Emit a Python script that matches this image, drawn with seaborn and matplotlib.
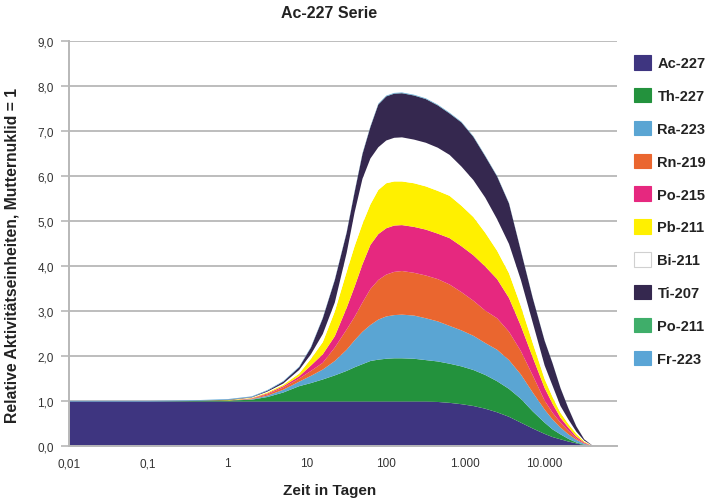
import numpy as np
import pandas as pd
import matplotlib
matplotlib.use("Agg")
import matplotlib.pyplot as plt
import matplotlib.patches as mpatches
import seaborn as sns

# ---- data ----
days = [0.01, 0.1, 0.316, 1, 2, 3.16, 5.01, 7.94, 11.2, 15.8, 22.4, 31.6, 39.8,
        50.1, 63.1, 79.4, 100, 126, 158, 224, 316, 447, 631, 891, 1259, 1778,
        2512, 3548, 5012, 7079, 10000, 12589, 15849, 19953, 25119, 31623, 41687]

ac227 = [1, 1, 1, 1, 1, 1, 1, 1, 1, 1, 1, 1, 1, 1, 1, 1, 1, 1, 1, 1, 1,
         0.99, 0.97, 0.94, 0.90, 0.84, 0.76, 0.66, 0.53, 0.40, 0.28, 0.21, 0.16,
         0.11, 0.07, 0.03, 0]
th227 = [0, 0, 0.01, 0.02, 0.04, 0.10, 0.20, 0.34, 0.41, 0.49, 0.58, 0.68, 0.76,
         0.83, 0.90, 0.93, 0.95, 0.96, 0.96, 0.95, 0.92, 0.90, 0.87, 0.84, 0.80,
         0.75, 0.69, 0.62, 0.53, 0.38, 0.25, 0.17, 0.11, 0.06, 0.02, 0.01, 0]
ra223 = [0, 0, 0, 0, 0.01, 0.03, 0.06, 0.10, 0.16, 0.22, 0.32, 0.47, 0.60,
         0.72, 0.80, 0.89, 0.94, 0.96, 0.97, 0.96, 0.93, 0.89, 0.84, 0.80, 0.76,
         0.71, 0.70, 0.64, 0.54, 0.42, 0.29, 0.22, 0.15, 0.10, 0.06, 0.02, 0]
rn219 = [0, 0, 0, 0, 0.01, 0.03, 0.05, 0.07, 0.11, 0.15, 0.30, 0.45, 0.52,
         0.65, 0.80, 0.88, 0.93, 0.96, 0.97, 0.95, 0.95, 0.94, 0.92, 0.85, 0.78,
         0.72, 0.70, 0.63, 0.52, 0.38, 0.20, 0.15, 0.11, 0.08, 0.03, 0.01, 0]
po215 = [0, 0, 0, 0, 0.01, 0.02, 0.03, 0.05, 0.12, 0.19, 0.25, 0.48, 0.67,
         0.85, 0.98, 1.02, 1.03, 1.03, 1.02, 1.02, 1.02, 1.01, 1.03, 1.02, 1.01,
         0.98, 0.87, 0.75, 0.56, 0.40, 0.28, 0.20, 0.11, 0.07, 0.04, 0.02, 0]
pb211 = [0, 0, 0, 0.01, 0.01, 0.02, 0.03, 0.06, 0.15, 0.27, 0.55, 0.80, 0.90,
         0.90, 0.90, 0.98, 1.00, 0.98, 0.97, 0.97, 0.96, 0.95, 0.94, 0.90, 0.85,
         0.75, 0.63, 0.55, 0.44, 0.32, 0.20, 0.15, 0.11, 0.08, 0.06, 0.02, 0]
bi211 = [0, 0, 0, 0, 0.01, 0.02, 0.03, 0.08, 0.10, 0.18, 0.20, 0.42, 0.75,
         1.00, 1.02, 0.95, 0.95, 0.97, 0.98, 0.97, 0.97, 0.96, 0.91, 0.87, 0.82,
         0.78, 0.70, 0.65, 0.58, 0.45, 0.30, 0.25, 0.15, 0.10, 0.05, 0.02, 0]
ti207 = [0, 0, 0, 0.01, 0.01, 0.02, 0.04, 0.06, 0.15, 0.35, 0.50, 0.45, 0.45,
         0.55, 0.70, 0.95, 0.98, 0.98, 0.98, 0.98, 0.97, 0.94, 0.92, 0.98, 0.96,
         0.92, 0.95, 0.90, 0.65, 0.55, 0.55, 0.50, 0.40, 0.25, 0.12, 0.03, 0]
po211 = [0, 0, 0, 0, 0, 0, 0, 0, 0, 0, 0, 0, 0.003, 0.003, 0.003, 0.003, 0.003,
         0.003, 0.003, 0.003, 0.003, 0.003, 0.003, 0.003, 0.003, 0.003, 0.003,
         0.002, 0.002, 0.002, 0.002, 0.001, 0.001, 0.001, 0.001, 0, 0]
fr223 = [0.014, 0.014, 0.014, 0.014, 0.014, 0.014, 0.014, 0.014, 0.014, 0.014,
         0.014, 0.014, 0.014, 0.014, 0.014, 0.014, 0.014, 0.014, 0.014, 0.014,
         0.014, 0.014, 0.014, 0.013, 0.013, 0.012, 0.011, 0.009, 0.007, 0.006,
         0.004, 0.003, 0.002, 0.002, 0.001, 0, 0]

nuclides = ["Ac-227", "Th-227", "Ra-223", "Rn-219", "Po-215",
            "Pb-211", "Bi-211", "Ti-207", "Po-211", "Fr-223"]
series = [ac227, th227, ra223, rn219, po215, pb211, bi211, ti207, po211, fr223]

xtick_vals = [0.01, 0.1, 1, 10, 100, 1000, 10000]
xtick_labels = ["0,01", "0,1", "1", "10", "100", "1.000", "10.000"]
ytick_vals = list(range(0, 10))
ytick_labels = [f"{v},0" for v in ytick_vals]

colors = ["#3e3580", "#23923d", "#5aa5d3", "#ea662f", "#e6287f",
          "#fff000", "#ffffff", "#35284f", "#3fae6a", "#5aa5d6"]

# ---- plotting ----
sns.set_theme(style="white")
plt.rcParams["font.family"] = ["Liberation Sans", "DejaVu Sans"]

W, H = 708, 502
fig = plt.figure(figsize=(W / 100, H / 100), dpi=100)
ax = fig.add_axes([69 / W, 1 - 447 / H, (617 - 69) / W, (447 - 42) / H])

df = pd.DataFrame({"days": days, **{n: s for n, s in zip(nuclides, series)}})
ax.stackplot(df["days"], *[df[n] for n in nuclides], colors=colors,
             linewidth=0, zorder=2)

ax.set_xscale("log")
ax.set_xlim(0.01, 10 ** 4.92)
ax.set_ylim(0, 9)
ax.set_xticks(xtick_vals)
ax.set_xticklabels(xtick_labels)
ax.minorticks_off()
ax.set_yticks(ytick_vals)
ax.set_yticklabels(ytick_labels)

ax.set_axisbelow(True)
ax.yaxis.grid(True, color="#bdbdbd", linewidth=1.4, zorder=0)
ax.xaxis.grid(False)
for s in ["top", "right"]:
    ax.spines[s].set_visible(False)
for s in ["left", "bottom"]:
    ax.spines[s].set_color("#b8b8b8")
    ax.spines[s].set_linewidth(1.4)
ax.tick_params(axis="y", which="major", length=6, width=1.2, color="#b8b8b8",
               left=True, labelsize=8.5, labelcolor="#333333", pad=5)
ax.tick_params(axis="x", which="major", length=0, labelsize=8.5,
               labelcolor="#333333", pad=8)

fig.text(329 / W, 1 - 13 / H, "Ac-227 Serie", ha="center", va="center",
         fontsize=11.5, fontweight="bold", color="#222222",
         family=["Liberation Sans Narrow", "Liberation Sans", "DejaVu Sans"])
fig.text(330 / W, 1 - 491 / H, "Zeit in Tagen", ha="center", va="center",
         fontsize=11, fontweight="bold", color="#222222")
fig.text(12 / W, 1 - 255 / H, "Relative Aktivitätseinheiten, Mutternuklid = 1",
         ha="center", va="center", rotation=90, fontsize=11.3,
         fontweight="bold", color="#222222")

handles = []
for n, c in zip(nuclides, colors):
    ec = "#d0d0d0" if c == "#ffffff" else c
    handles.append(mpatches.Patch(facecolor=c, edgecolor=ec, linewidth=0.8, label=n))
leg = fig.legend(handles=handles, loc="upper left",
                 bbox_to_anchor=(621 / W, 1 - 43 / H),
                 frameon=False, handlelength=1.15, handleheight=1.15,
                 handletextpad=0.45, labelspacing=1.21,
                 prop={"weight": "bold", "size": 10.5})
for t in leg.get_texts():
    t.set_color("#222222")

fig.savefig("out.png", dpi=100)
